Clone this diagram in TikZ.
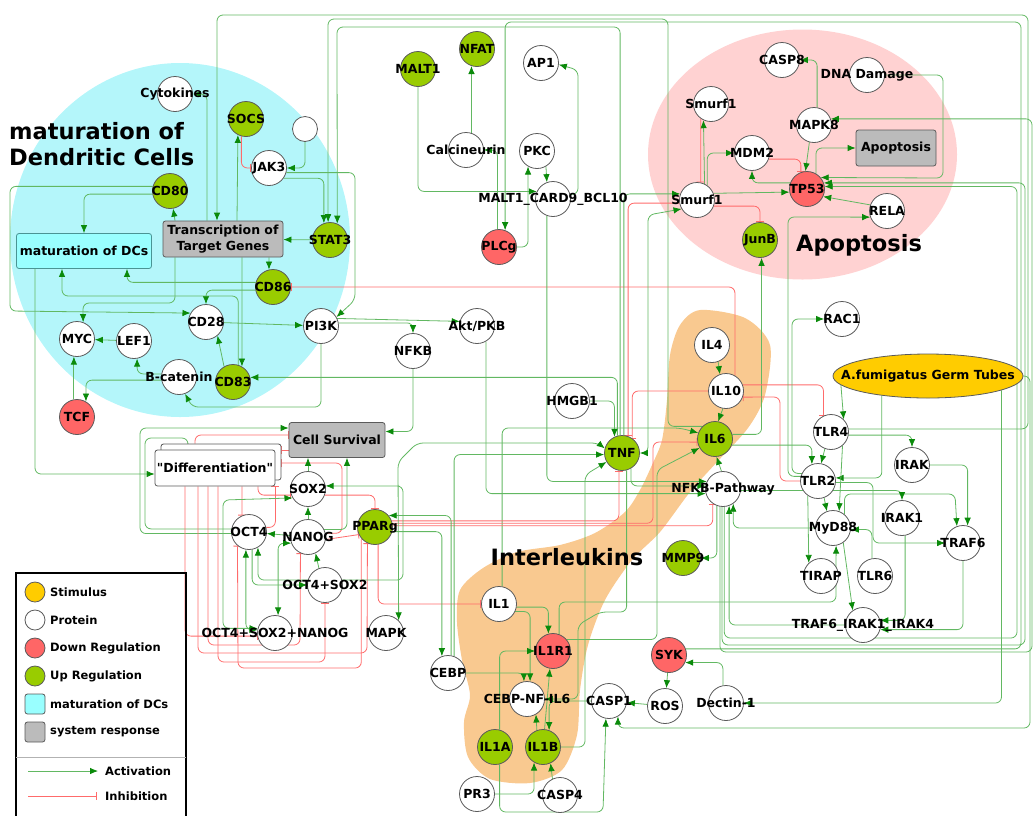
\documentclass[tikz,border=0pt]{standalone}
\usepackage{fontspec}
\setmainfont{DejaVu Sans}
\newfontfamily\qfont{DejaVu Sans}
\usetikzlibrary{arrows.meta,shapes.geometric}
\definecolor{upgreen}{HTML}{99CC00}
\definecolor{downred}{HTML}{FF6666}
\definecolor{stimyellow}{HTML}{FFCC00}
\definecolor{dccyan}{HTML}{99FFFF}
\definecolor{dcborder}{HTML}{4A9494}
\definecolor{sysgrey}{HTML}{BBBBBB}
\definecolor{nodeborder}{HTML}{5A5A5A}
\definecolor{edgegreen}{HTML}{62B862}
\definecolor{tipgreen}{HTML}{0A8A0A}
\definecolor{edgered}{HTML}{FF6B6B}
\definecolor{bgcyan}{HTML}{B4F6FA}
\definecolor{bgpink}{HTML}{FFD2D2}
\definecolor{bgorange}{HTML}{F9C990}
\pgfdeclarelayer{back}
\pgfdeclarelayer{edges}
\pgfsetlayers{back,edges,main}
\newcommand\nfont{\fontsize{12.5}{16}\selectfont\bfseries}
\newcommand\lfont{\fontsize{11.5}{13}\selectfont\bfseries}
\newcommand\mynode[4][prot]{\node[#1,label={[lbl]center:#4}] (#2) at (#3) {};}
\tikzset{
 lbl/.style={font=\nfont, text=black, inner sep=0pt},
 prot/.style={circle, draw=nodeborder, line width=0.8pt, minimum size=35pt, inner sep=0pt, fill=white},
 upn/.style={prot, fill=upgreen},
 downn/.style={prot, fill=downred},
 sysbox/.style={rectangle, rounded corners=2.5pt, draw=nodeborder, fill=sysgrey, line width=0.8pt, font=\nfont, align=center, inner sep=0pt},
 diffbox/.style={sysbox, fill=white},
 dcbox/.style={sysbox, fill=dccyan, draw=dcborder},
 act/.style={draw=edgegreen, line width=0.8pt, rounded corners=6pt, -{Latex[length=8pt,width=6.5pt,color=tipgreen]}},
 actb/.style={draw=edgegreen, line width=0.8pt, rounded corners=6pt, {Latex[length=8pt,width=6.5pt,color=tipgreen]}-{Latex[length=8pt,width=6.5pt,color=tipgreen]}},
 inh/.style={draw=edgered, line width=0.8pt, rounded corners=6pt, -{Bar[width=8pt]}},
 biglbl/.style={font=\fontsize{22.5}{26}\selectfont\bfseries, align=left, inner sep=0pt},
 legtxt/.style={anchor=west, font=\lfont, inner sep=0pt},
}
\begin{document}
\begin{tikzpicture}[x=1pt,y=-1pt]
\useasboundingbox (0,0) rectangle (1033,815);
% ---------- background regions
\begin{pgfonlayer}{back}
\fill[bgcyan] (180,240) ellipse [x radius=170pt, y radius=177pt];
\fill[bgpink] (802.5,154.5) ellipse [x radius=154.5pt, y radius=125pt];
\fill[bgorange] plot[smooth cycle, tension=0.5] coordinates {
 (700,310) (745,318) (770,345) (765,395) (748,428) (717,462) (690,492) (660,532)
 (632,560) (605,600) (588,645) (580,690) (577,735) (562,770) (530,783) (490,779)
 (468,757) (464,722) (470,695) (462,660) (457,622) (460,590) (483,568) (517,552)
 (560,545) (595,533) (625,512) (640,490) (652,465) (662,440) (667,400) (670,355) (680,325)};
\end{pgfonlayer}
% ---------- region titles
\node[biglbl, anchor=west] (tdc) at (9,144) {maturation of\\Dendritic Cells};
\node[biglbl] (tap) at (859,245) {Apoptosis};
\node[biglbl] (til) at (567,557) {Interleukins};
% ---------- nodes
\mynode{cyt}{175,94}{Cytokines}
\mynode[upn]{socs}{246,119}{SOCS}
\node[prot, minimum size=25pt] (unk) at (305,129) {};
\mynode{jak3}{269,168}{JAK3}
\mynode[upn]{cd80}{170,191}{CD80}
\mynode[upn]{stat3}{330,240}{STAT3}
\mynode[upn]{cd86}{273,287}{CD86}
\mynode{cd28}{206,322}{CD28}
\mynode{pi3k}{321,326}{PI3K}
\mynode{myc}{77,339}{MYC}
\mynode{lef1}{134,341}{LEF1}
\mynode{bcat}{179,377}{B-catenin}
\mynode[upn]{cd83}{233,382}{CD83}
\mynode[downn]{tcf}{77,417}{TCF}
\mynode{sox2}{308,489}{SOX2}
\mynode{oct4}{249,532}{OCT4}
\mynode{nanog}{308,537}{NANOG}
\mynode{os}{325,585}{OCT4+SOX2}
\mynode{osn}{275,633}{OCT4+SOX2+NANOG}
\mynode[upn]{malt1}{418,69}{MALT1}
\mynode[upn]{nfat}{477,49}{NFAT}
\mynode{ap1}{541,63}{AP1}
\mynode{calc}{466,150}{Calcineurin}
\mynode{pkc}{537,151}{PKC}
\mynode{mcb}{553,199}{MALT1\_CARD9\_BCL10}
\mynode[downn]{plcg}{499,247}{PLCg}
\mynode{casp8}{782,60}{CASP8}
\mynode{dna}{867,75}{DNA Damage}
\mynode{smurfA}{711,104}{Smurf1}
\mynode{mapk8}{814,125}{MAPK8}
\mynode{mdm2}{752,153}{MDM2}
\mynode[downn]{tp53}{807,189}{TP53}
\mynode{smurfB}{697,200}{Smurf1}
\mynode{rela}{887,211}{RELA}
\mynode[upn]{junb}{760,240}{JunB}
\mynode{akt}{477,326}{Akt/PKB}
\mynode{nfkb}{413,351}{NFKB}
\mynode{hmgb1}{572,401}{HMGB1}
\mynode[upn]{tnf}{622,453}{TNF}
\mynode{rac1}{842,319}{RAC1}
\mynode{il4}{712,345}{IL4}
\mynode{il10}{726,391}{IL10}
\mynode{tlr4}{831,432}{TLR4}
\mynode[upn]{il6}{715,439}{IL6}
\mynode{irak}{912,465}{IRAK}
\mynode{tlr2}{818,481}{TLR2}
\mynode{nfkbp}{723,489}{NFKB-Pathway}
\mynode{irak1}{902,518}{IRAK1}
\mynode{myd88}{833,528}{MyD88}
\mynode{traf6}{963,543}{TRAF6}
\mynode[upn]{mmp9}{683,558}{MMP9}
\mynode{tirap}{821,576}{TIRAP}
\mynode{tlr6}{875,576}{TLR6}
\mynode{tirak}{863,625}{TRAF6\_IRAK1\_IRAK4}
\mynode[downn]{syk}{669,655}{SYK}
\mynode{ros}{665,706}{ROS}
\mynode{dectin}{726,703}{Dectin-1}
\mynode[upn]{pparg}{375,527}{PPARg}
\mynode{mapk}{386,633}{MAPK}
\mynode{il1}{499,604}{IL1}
\mynode[downn]{il1r1}{553,651}{IL1R1}
\mynode{cebp}{448,673}{CEBP}
\mynode{cebpnf}{527,699}{CEBP-NF-IL6}
\mynode{casp1}{609,701}{CASP1}
\mynode[upn]{il1a}{495,747}{IL1A}
\mynode[upn]{il1b}{543,747}{IL1B}
\mynode{pr3}{477,794}{PR3}
\mynode{casp4}{560,795}{CASP4}
\node[sysbox, minimum width=120pt, minimum height=36pt] (trans) at (223,239) {Transcription of\\Target Genes};
\node[dcbox, minimum width=135pt, minimum height=35pt] (matdc) at (84,251) {maturation of DCs};
\node[sysbox, minimum width=80pt, minimum height=36pt] (apop) at (896,148) {Apoptosis};
\node[sysbox, minimum width=96pt, minimum height=35pt] (cellsurv) at (337,440) {Cell Survival};
\node[diffbox, minimum width=120pt, minimum height=36pt] (diffb) at (221,462) {};
\node[diffbox, minimum width=120pt, minimum height=36pt] (diff) at (215,468) {{\qfont\bfseries"}Differentiation{\qfont\bfseries"}};
\node[ellipse, draw=nodeborder, fill=stimyellow, line width=0.8pt, minimum width=190pt, minimum height=44pt, inner sep=0pt, label={[lbl]center:A.fumigatus Germ Tubes}] (afum) at (928,376) {};
% ---------- legend
\draw[line width=1.8pt] (16,573) rectangle (186,840);
\draw[gray!60, line width=0.8pt] (16,757) -- (186,757);
\node[prot, minimum size=20pt, fill=stimyellow] (lg1) at (35,592) {};
\node[legtxt] at (50,592) {Stimulus};
\node[prot, minimum size=20pt] (lg2) at (35,620) {};
\node[legtxt] at (50,620) {Protein};
\node[prot, minimum size=20pt, fill=downred] (lg3) at (35,648) {};
\node[legtxt] at (50,648) {Down Regulation};
\node[prot, minimum size=20pt, fill=upgreen] (lg4) at (35,676) {};
\node[legtxt] at (50,676) {Up Regulation};
\node[rectangle, rounded corners=2.5pt, draw=nodeborder, fill=dccyan, minimum size=20pt, line width=0.8pt] (lg5) at (35,704) {};
\node[legtxt] at (50,704) {maturation of DCs};
\node[rectangle, rounded corners=2.5pt, draw=nodeborder, fill=sysgrey, minimum size=20pt, line width=0.8pt] (lg6) at (35,732) {};
\node[legtxt] at (50,732) {system response};
\coordinate (la1) at (28,771); \coordinate (la2) at (98,771);
\draw[act] (la1) -- (la2);
\node[legtxt] at (105,771) {Activation};
\coordinate (li1) at (28,796); \coordinate (li2) at (97,796);
\draw[inh] (li1) -- (li2);
\node[legtxt] at (105,796) {Inhibition};
% ---------- connectors
\begin{pgfonlayer}{edges}
% dendritic cells
\draw[act] (unk.south) |- (jak3);
\draw[inh] (socs.-105) |- (jak3);
\draw[act] ([xshift=14pt]trans.north) -- (socs.-117);
\draw[act] ([xshift=-16pt]trans.north) |- (cyt);
\draw[act] ([xshift=-48pt]trans.north) -- (cd80.-80);
\draw[act] ([xshift=-48pt]trans.south) |- (83,303) -- (myc.70);
\draw[act] (cd80.190) -| (matdc.north);
\draw[act] (cd80.165) -| (10,311) -- (cd28.150);
\draw[act] (cd86.165) -| ([xshift=43pt]matdc.south);
\draw[act] (cd86.190) -| (cd28.north);
\draw[act] (cd83.73) |- (62,296) -- ([xshift=-22pt]matdc.south);
\draw[act] ([xshift=19pt]trans.south) -- (cd83.60);
\draw[act] ([xshift=46pt]trans.south) -- (cd86.103);
\draw[act] (stat3) -- (trans);
\draw[act] (jak3.-35) -| (stat3.110);
\draw[act] (jak3.-15) -| (355,300) -- (pi3k.30);
\draw[act] (il6.135) -| (668,19) -| (328,200) -- (stat3.96);
\draw[act] (tnf.96) |- (337,27) -- (stat3.66);
\draw[act] (tlr4.10) -| (1028,15) -| ([xshift=-6pt]trans.north);
\draw[act] (cd83.120) -- (cd28.-50);
\draw[act] (cd28) -- (pi3k);
\draw[act] (pi3k.south) |- (192,407) -- (bcat.-70);
\draw[act] (bcat.170) -| (lef1.-80);
\draw[act] (bcat.-170) -| (tcf.60);
\draw[act] (lef1) -- (myc);
\draw[act] (tcf.100) -- (myc.-100);
\draw[act] (tnf.105) |- (cd83.15);
\draw[inh] (il10.60) |- (cd86.east);
% top middle
\draw[act] (malt1.south) |- (mcb.155);
\draw[act] (calc.72) -- (nfat.-108);
\draw[act] (plcg.95) |- (calc.east);
\draw[act] (plcg.east) -| (pkc.-120);
\draw[act] (pkc.-60) -- (mcb.110);
\draw[act] (mcb.15) -| (578,70) -- (ap1.-5);
\draw[act] (mcb.-110) |- (nfkbp.155);
\draw[act] (syk.20) -| (1021,22) -| (plcg.70);
% apoptosis
\draw[act] (mapk8.80) |- (casp8.east);
\draw[act] (mapk8.-105) -- (tp53.95);
\draw[act] (dna.east) -| (943,178) -- (tp53.40);
\draw[act] (tp53.60) |- (apop.west);
\draw[inh] (mdm2.-20) -| (tp53.110);
\draw[act] (tp53.160) -| (mdm2.south);
\draw[act] (smurfB.55) |- (mdm2.west);
\draw[act] (smurfB.65) -- (smurfA.-115);
\draw[inh] (smurfA.-125) -- (smurfB.78);
\draw[act] (smurfB.22) -- (tp53.-170);
\draw[act] (rela.160) -- (tp53.-25);
\draw[inh] (smurfB.-20) -| (junb.north);
\draw[act] (tnf.84) |- (smurfB.160);
\draw[inh] (smurfB.190) -| (tnf.70);
\draw[actb] (tnf.east) -| (648,215) -- (smurfB.-150);
\draw[act] (nfkbp.-100) |- (1032,652) |- (mapk8.20);
\draw[act] (nfkbp.-93) |- (1025,645) |- (tp53.20);
\draw[act] (nfkbp.-86) |- (1017,638) |- (tp53.8);
% interleukins / TNF
\draw[act] (il4.-70) -- (il10.110);
\draw[act] (il10.-100) -- (il6.80);
\draw[act] (nfkbp.95) -- (il6.-85);
\draw[act] (il6.15) -| (junb.-85);
\draw[inh] (il10.20) -| (tlr4.115);
\draw[inh] (tlr2.west) -| (780,397) -- (il10.-20);
\draw[inh] (il10.west) -| (tnf.55);
\draw[act] (il6.-20) -| (tlr2.110);
\draw[act] (il1.80) |- (680,428) -- (il6.160);
\draw[inh] (pparg.20) -| (tnf.-100);
\draw[inh] (pparg.12) -| (653,442) -- (il6.-170);
\draw[inh] (pparg.4) -| (nfkbp.-125);
\draw[inh] (pparg.-80) |- (il1.west);
\draw[act] (il1.-10) -| (il1r1.105);
\draw[act] (il1.-25) -| (cebpnf.80);
\draw[act] (il1b.85) -- (il1r1.-100);
\draw[act] (casp1.west) -| (il1b.70);
\draw[act] (il1a.75) |- (il1r1.west);
\draw[act] (il1b.110) -- (cebpnf.-60);
\draw[act] (cebp.east) -| (cebpnf.100);
\draw[act] (tnf.-75) |- (600,612) -- (578,625) |- (cebpnf.east);
\draw[act] (il1b.east) -| (585,475) -- (tnf.-150);
\draw[act] (casp4.115) -- (il1b.-65);
\draw[act] (pr3.east) -| (il1b.-120);
\draw[act] (il1a.-75) |- (603,812) -- (casp1.-100);
\draw[act] (ros) -- (casp1);
\draw[act] (syk) -- (ros);
\draw[act] (dectin.100) |- (syk.-25);
\draw[act] (il1r1.70) |- (836,602) -- (myd88.-80);
\draw[act] (il1r1.40) -| (657,470) -- (il6.-150);
\draw[act] (cebp.70) |- (tnf.-175);
\draw[actb] (mapk.45) -- (398,462) -- (417,443) -- (598,443) -- (tnf.165);
\draw[act] (hmgb1.east) -| (tnf.115);
\draw[act] (tnf.-60) |- (nfkbp.170);
\draw[act] (akt.-60) |- (nfkbp.-165);
\draw[act] (pi3k.25) -- (akt.165);
\draw[act] (pi3k.10) -| (nfkb.north);
\draw[act] (nfkb.south) |- (cellsurv.10);
\draw[act] (nfkbp.-110) |- (mmp9.east);
% receptors
\draw[act] (afum.-11) |- (dectin);
\draw[act] (afum.-174) -- (tlr4.45);
\draw[act] (afum.-157) |- (tlr2.10);
\draw[act] (afum.east) -| (1030,728) -| (casp1.-60);
\draw[act] (tlr4.-110) -- (tlr2.80);
\draw[act] (tlr4.-50) -- (myd88.70);
\draw[act] (tlr2.-70) -- (myd88.110);
\draw[act] (tlr2.-125) -- (tirap.133);
\draw[act] (tlr4.-10) -| (irak);
\draw[act] (irak) -| (traf6.75);
\draw[act] (myd88.50) |- (955,494) -- (traf6.110);
\draw[act] (tlr2.-5) -| (873,543) -- (traf6);
\draw[act] (nfkbp.-5) -| (irak1);
\draw[act] (tlr6.100) |- (myd88.-5);
\draw[act] (myd88.-55) -- (tirak.125);
\draw[act] (irak1.-80) |- (tirak.15);
\draw[act] (traf6.south) |- (tirak.-15);
\draw[act] (tirak.west) -| (nfkbp.-70);
\draw[act] (myd88.west) -| (nfkbp.-55);
\draw[act] (tlr2.165) -| (788,217) -- (rela.-160);
\draw[act] (tlr2.155) -| (792,319) -- (rac1);
% stem cell / differentiation cluster
\draw[act] ([xshift=-49pt]matdc.south) |- ([yshift=-6pt]diff.west);
\draw[act] (oct4.170) -| (145,438) -| ([xshift=-33pt]diffb.north);
\draw[act] (oct4.-175) -| (140,428) -- ([yshift=12pt]cellsurv.west);
\draw[inh] ([xshift=-26pt]diffb.north) |- ([yshift=5pt]cellsurv.west);
\draw[inh] ([yshift=-10pt]cellsurv.west) -- ([yshift=12pt]diffb.east);
\draw[inh] (nanog.12) -| (342,463) -- ([yshift=-1pt]diffb.east);
\draw[inh] (oct4.15) -| (diff.south east);
\draw[inh] ([xshift=27pt]diff.south) -- (oct4.113);
\draw[inh] ([xshift=43pt]diff.south) |- (sox2.-160);
\draw[inh] (sox2.-20) -| (pparg.north);
\draw[inh] ([xshift=-17pt]diff.south) |- (367,653) -- (pparg.-115);
\draw[inh] ([xshift=-7pt]diff.south) |- (300,645) -- (nanog.-115);
\draw[inh] ([xshift=3pt]diff.south) |- (325,662) -- (os.south);
\draw[inh] ([xshift=-30pt]diff.south) |- (osn.-170);
\draw[inh] (pparg.-140) |- (238,668) -- (oct4.-130);
\draw[inh] (nanog.-8) -- (pparg.-155);
\draw[act] (nanog) -- (sox2);
\draw[act] (sox2.north) -- (sox2.north |- cellsurv.south);
\draw[act] (nanog) -- (oct4);
\draw[act] (os.110) -- (nanog.-65);
\draw[act] (nanog.25) -| ([xshift=10pt]cellsurv.south);
\draw[actb] (sox2.10) -| (403,507) |- (258,580) -- (oct4.-60);
\draw[actb] (osn.165) -| (223,500) -- (sox2.-150);
\draw[actb] (nanog.-160) -| (osn.80);
\draw[actb] (oct4.-100) |- (osn.170);
\draw[act] (oct4.-80) |- (os.west);
\draw[act] (pparg.-15) -| (cebp.110);
\draw[act] (cebp.80) |- (pparg.40);
\end{pgfonlayer}
\end{tikzpicture}
\end{document}
